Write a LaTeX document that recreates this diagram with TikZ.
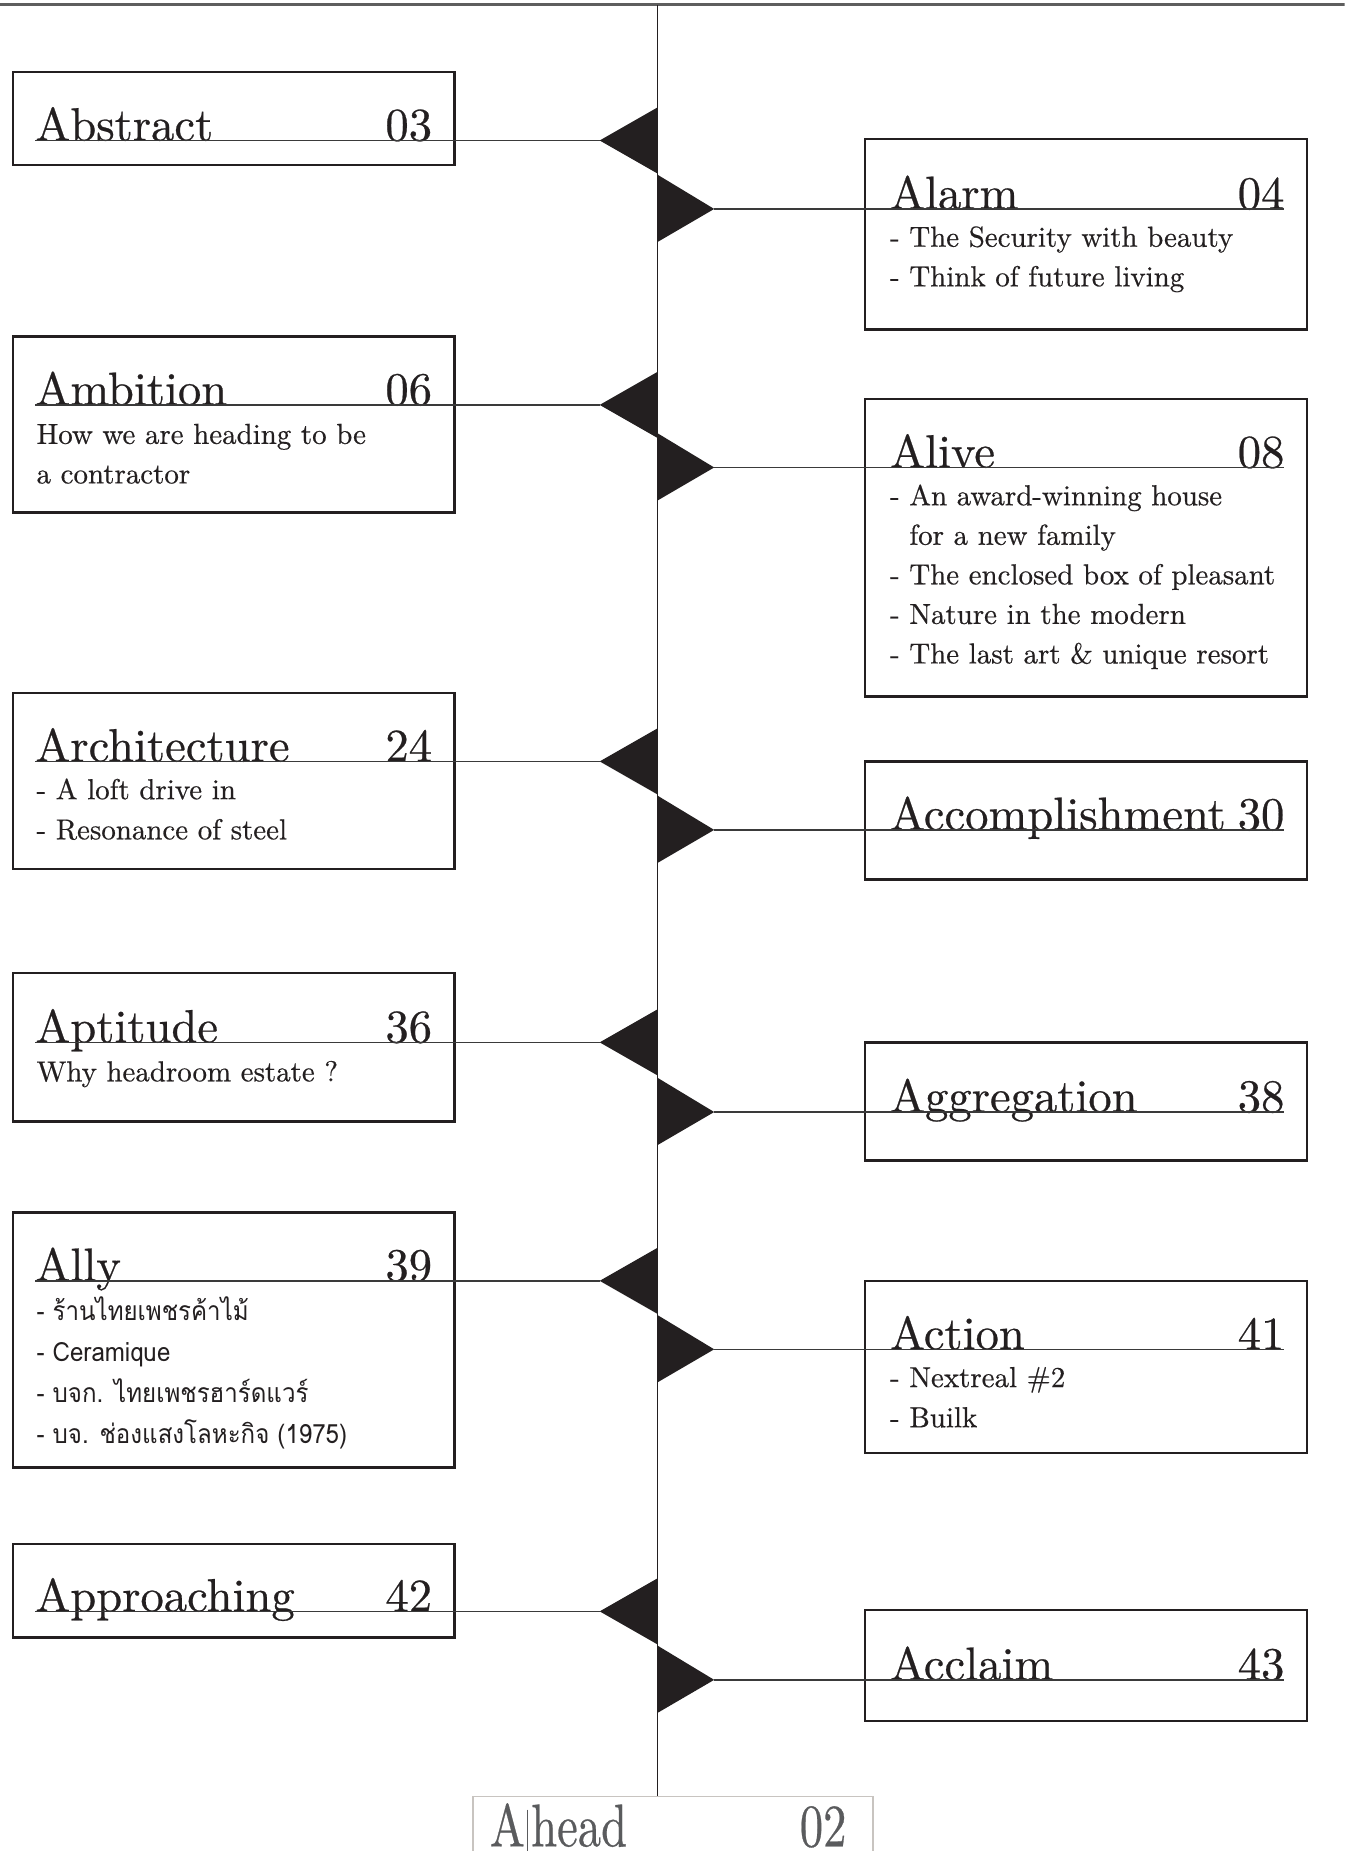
\documentclass[tikz,border=0pt]{standalone}
\usepackage{fontspec}
\newfontfamily\thaifont[Script=Thai]{Loma}
\newfontfamily\lmh{Latin Modern Roman}[FakeBold=0.5]
\definecolor{ink}{HTML}{231F20}
\definecolor{linec}{HTML}{3A3A3A}
\definecolor{topc}{HTML}{5E5E5E}
\definecolor{aheadbox}{HTML}{C8C4C0}
\definecolor{aheadtxt}{HTML}{5A5B5D}
\newcommand\Tt[1]{\scalebox{1.975}{#1}}
\newcommand\St[1]{\scalebox{1.225}{#1}}
\newcommand\Th[1]{\scalebox{1}[1.1]{#1}}
\newcommand\Ah[1]{\scalebox{1.975}[2.55]{#1}}
% left entry: key, box top, box height, baseline, title, number
\newcommand\Lentry[6]{%
  \node[box, minimum height=#3] (b#1) at (11,#2) {};
  \node[ttl] (t#1) at (30,#4) {\Tt{#5}};
  \node[num] (n#1) at (366,#4) {\Tt{#6}};
  \coordinate (p#1) at (508,#4);
  \fill[ink] (557,#4-28) -- (p#1) -- (557,#4+28) -- cycle;
  \draw[conn] (t#1.base west) -- (p#1);
}
% right entry
\newcommand\Rentry[6]{%
  \node[box, minimum height=#3] (b#1) at (733,#2) {};
  \node[ttl] (t#1) at (754,#4) {\Tt{#5}};
  \node[num] (n#1) at (1088,#4) {\Tt{#6}};
  \coordinate (p#1) at (605,#4);
  \fill[ink] (557,#4-29) -- (p#1) -- (557,#4+28) -- cycle;
  \draw[conn] (p#1) -- (n#1.base east);
}
% serif sub lines: key, x, first baseline, spacing, list
\newcommand\Subs[5]{%
  \foreach \s [count=\i] in {#5} \node[sub] (#1\i) at (#2,#3+#4*\i-#4) {\St{\s}};
}
% thai sub lines
\newcommand\ThSubs[5]{%
  \foreach \s [count=\i] in {#5} \node[thai] (#1\i) at (#2,#3+#4*\i-#4) {\Th{\s}};
}
\begin{document}
\begin{tikzpicture}[x=0.5pt,y=-0.5pt,
  box/.style={draw=ink, line width=1pt, inner sep=0pt, outer sep=0pt, anchor=north west, minimum width=187pt},
  ttl/.style={font=\lmh\fontsize{10}{12}\selectfont, text=ink, inner sep=0pt, outer sep=0pt, anchor=base west},
  num/.style={ttl, anchor=base east},
  sub/.style={font=\lmh\fontsize{10}{12}\selectfont, text=ink, inner sep=0pt, outer sep=0pt, anchor=base west},
  thai/.style={font=\thaifont\fontsize{10.2}{12}\selectfont, text=ink, inner sep=0pt, outer sep=0pt, anchor=base west},
  ahd/.style={font=\lmh\fontsize{10}{12}\selectfont, text=aheadtxt, inner sep=0pt, outer sep=0pt, anchor=base west},
  conn/.style={draw=linec, line width=0.6pt}]
\useasboundingbox (0,0) rectangle (1139,1568);
\clip (0,0) rectangle (1139,1568);
\fill[white] (0,0) rectangle (1139,1568);
% top rule
\coordinate (topL) at (0,4);
\coordinate (topR) at (1139,4);
\draw[topc, line width=1.2pt] (topL) -- (topR);
% bottom box
\node[draw=aheadbox, line width=0.8pt, anchor=north west, inner sep=0pt, minimum width=169.5pt, minimum height=40pt] (bAhead) at (400,1521) {};
% spine
\coordinate (vtop) at (557,4);
\draw[ink, line width=0.7pt] (vtop) -- (vtop |- bAhead.north);
% left entries
\Lentry{Abs}{61}{39.5pt}{119}{Abstract}{03}
\Lentry{Amb}{285}{74.5pt}{343}{Ambition}{06}
\Lentry{Arc}{587}{74.5pt}{645}{Architecture}{24}
\Lentry{Apt}{824}{63pt}{883}{Aptitude}{36}
\Lentry{Ally}{1027}{108pt}{1085}{Ally}{39}
\Lentry{Appr}{1308}{39.5pt}{1365}{Approaching}{42}
% right entries
\Rentry{Alarm}{118}{80.5pt}{177}{Alarm}{04}
\Rentry{Alive}{338}{126pt}{396}{Alive}{08}
\Rentry{Acc}{645}{50pt}{703}{Accomplishment}{30}
\Rentry{Agg}{883}{50pt}{942}{Aggregation}{38}
\Rentry{Act}{1085}{73pt}{1143}{Action}{41}
\Rentry{Acl}{1364}{47pt}{1423}{Acclaim}{43}
% sub lines
\Subs{sAmb}{31}{376}{33.5}{{How we are heading to be},{a contractor}}
\Subs{sArc}{31}{677}{34}{{- A loft drive in},{- Resonance of steel}}
\Subs{sApt}{31}{916}{33.5}{{Why headroom estate ?}}
\ThSubs{sAlly}{31}{1119}{34.5}{{- ร้านไทยเพชรค้าไม้},{- Ceramique},{- บจก. ไทยเพชรฮาร์ดแวร์},{- บจ. ช่องแสงโลหะกิจ (1975)}}
\Subs{sAlarm}{754}{209}{33.5}{{- The Security with beauty},{- Think of future living}}
\Subs{sAlive}{754}{428}{33.5}{{- An award-winning house},{\hphantom{-}\ for a new family},{- The enclosed box of pleasant},{- Nature in the modern},{- The last art \& unique resort}}
\Subs{sAct}{754}{1175}{34}{{- Nextreal \#2},{- Builk}}
% bottom label
\node[ahd] (aA) at (415,1564) {\Ah{A}};
\node[ahd] (aHead) at (450,1564) {\Ah{head}};
\node[ahd, anchor=base east] (aNum) at (717,1564) {\Ah{02}};
\coordinate (cur) at (447,1533);
\draw[aheadtxt, line width=0.4pt] (cur) -- (cur |- 0,1580);
\end{tikzpicture}
\end{document}
